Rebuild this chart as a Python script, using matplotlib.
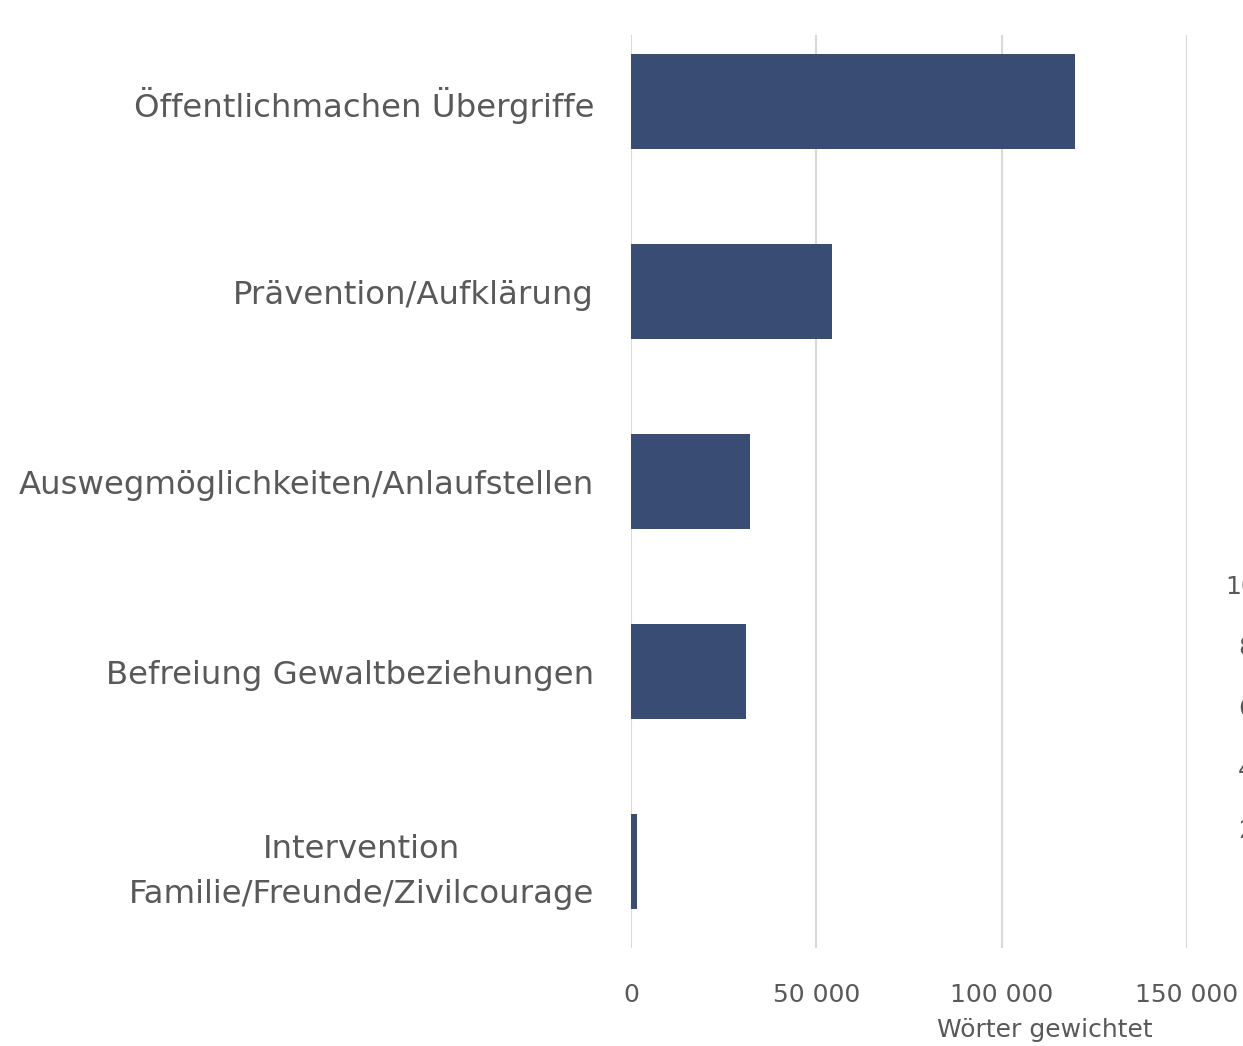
import matplotlib.pyplot as plt

# Daten
kategorien = [
    "Öffentlichmachen Übergriffe",
    "Prävention/Aufklärung",
    "Auswegmöglichkeiten/Anlaufstellen",
    "Befreiung Gewaltbeziehungen",
    "Intervention\nFamilie/Freunde/Zivilcourage",
]
werte = [119700, 54300, 32200, 31100, 1600]
x_ticks = [0, 50000, 100000, 150000]
x_tick_labels = ["0", "50 000", "100 000", "150 000"]
x_label = "Wörter gewichtet"

# abgeschnittene Achsenbeschriftung des Nachbardiagramms am rechten Rand
rest_labels = ["100", "80", "60", "40", "20"]

W, H = 1243, 1046
TEXT = "#595959"
BALKEN = "#384C74"
GRID = "#D9D9D9"

fig = plt.figure(figsize=(W / 100, H / 100), dpi=100, facecolor="white")
ax = fig.add_axes([631 / W, 98 / H, (1187 - 631) / W, (948 - 35) / H])

pos = list(range(len(kategorien)))
ax.barh(pos, werte, height=0.5, color=BALKEN, zorder=3)

ax.set_xlim(0, 150000)
ax.set_ylim(4.455, -0.35)
ax.set_xticks(x_ticks)
ax.set_xticklabels(x_tick_labels, fontsize=18, color=TEXT)
ax.set_yticks(pos)
ax.set_yticklabels(kategorien, fontsize=23.3, color=TEXT,
                   multialignment="center", linespacing=1.6)
for lab in ax.get_yticklabels():
    lab.set_y(lab.get_position()[1])
ax.tick_params(axis="x", length=0, pad=25)
ax.tick_params(axis="y", length=0, pad=26.5)
ax.grid(axis="x", color=GRID, linewidth=1.5, zorder=0)
for s in ax.spines.values():
    s.set_visible(False)

ax.set_xlabel(x_label, fontsize=18, color=TEXT)
ax.xaxis.set_label_coords((1045 - 631) / (1187 - 631), -(1030 - 948) / (948 - 35))
ax.xaxis.label.set_va("center")

# Reste am rechten Rand
for i, lab in enumerate(rest_labels):
    x0 = 1225 if len(lab) == 3 else 1238
    fig.text(x0 / W, 1 - (587 + 61 * i) / H, lab, fontsize=18, color=TEXT,
             ha="left", va="center")

fig.savefig("out.png", dpi=100, facecolor="white")
